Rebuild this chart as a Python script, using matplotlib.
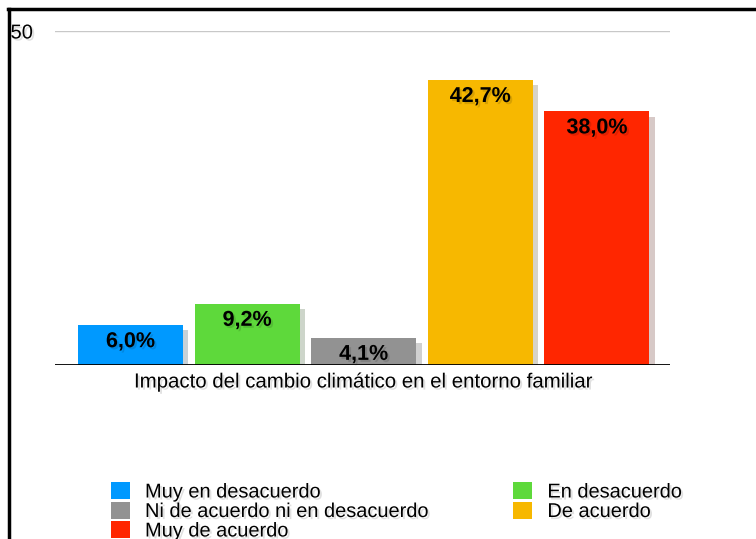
import matplotlib.pyplot as plt
import matplotlib.patheffects as pe
from matplotlib.patches import Patch
from matplotlib.lines import Line2D

plt.rcParams['font.family'] = ['Liberation Sans', 'DejaVu Sans']

categories = ["Muy en desacuerdo", "En desacuerdo", "Ni de acuerdo ni en desacuerdo",
              "De acuerdo", "Muy de acuerdo"]
values = [6.0, 9.2, 4.1, 42.7, 38.0]
labels = ["6,0%", "9,2%", "4,1%", "42,7%", "38,0%"]
colors = ["#0099ff", "#5ed93b", "#929292", "#f7b800", "#ff2600"]
group_label = "Impacto del cambio climático en el entorno familiar"


def main():
    fig = plt.figure(figsize=(7.56, 5.39), dpi=100)
    W, H = 756, 539
    ax = fig.add_axes([55 / W, 1 - 365 / H, 615 / W, 334 / H])

    shadow = [pe.SimplePatchShadow(offset=(4, -4), alpha=0.22), pe.Normal()]
    tshadow = [pe.SimplePatchShadow(offset=(1.5, -1.5), alpha=0.12), pe.Normal()]

    x = list(range(len(values)))
    bars = ax.bar(x, values, width=0.9, color=colors, zorder=3)
    for b in bars:
        b.set_path_effects(shadow)

    for xi, v, lab in zip(x, values, labels):
        ax.annotate(lab, (xi, v), xytext=(0, -4.5), textcoords="offset points",
                    ha="center", va="top", fontsize=15.5, fontweight="bold",
                    zorder=4, path_effects=tshadow)

    ax.set_xlim(-0.647, 4.627)
    ax.set_ylim(0, 50)
    ax.axhline(50, color="#c8c8c8", lw=1, zorder=1)
    ax.axhline(0, color="black", lw=1.3, zorder=4)
    for s in ax.spines.values():
        s.set_visible(False)
    ax.set_xticks([])
    ax.set_yticks([50])
    ax.set_yticklabels(["50"])
    ax.tick_params(axis="y", length=0, pad=16, labelsize=14.5)
    for t in ax.get_yticklabels():
        t.set_path_effects(tshadow)

    fig.text(363 / W, 1 - 382 / H, group_label, ha="center", va="center",
             fontsize=14.7, path_effects=tshadow)

    order = [0, 2, 4, 1, 3]
    handles = [Patch(facecolor=colors[i], edgecolor="none") for i in order]
    leg = fig.legend(handles, [categories[i] for i in order], ncol=2,
                     loc="upper left", bbox_to_anchor=(97 / W, 1 - 468 / H),
                     frameon=False, fontsize=14.4, handlelength=0.95,
                     handleheight=0.95, handletextpad=0.75, labelspacing=0.0,
                     columnspacing=4.25, borderpad=0.2)
    for t in leg.get_texts():
        t.set_path_effects(tshadow)

    fig.add_artist(Line2D([8 / W, 1], [1 - 9 / H, 1 - 9 / H], color="black", lw=2.5,
                          transform=fig.transFigure))
    fig.add_artist(Line2D([9 / W, 9 / W], [0, 1 - 9 / H], color="black", lw=2.5,
                          transform=fig.transFigure))

    fig.savefig("out.png", dpi=100)


if __name__ == "__main__":
    main()
